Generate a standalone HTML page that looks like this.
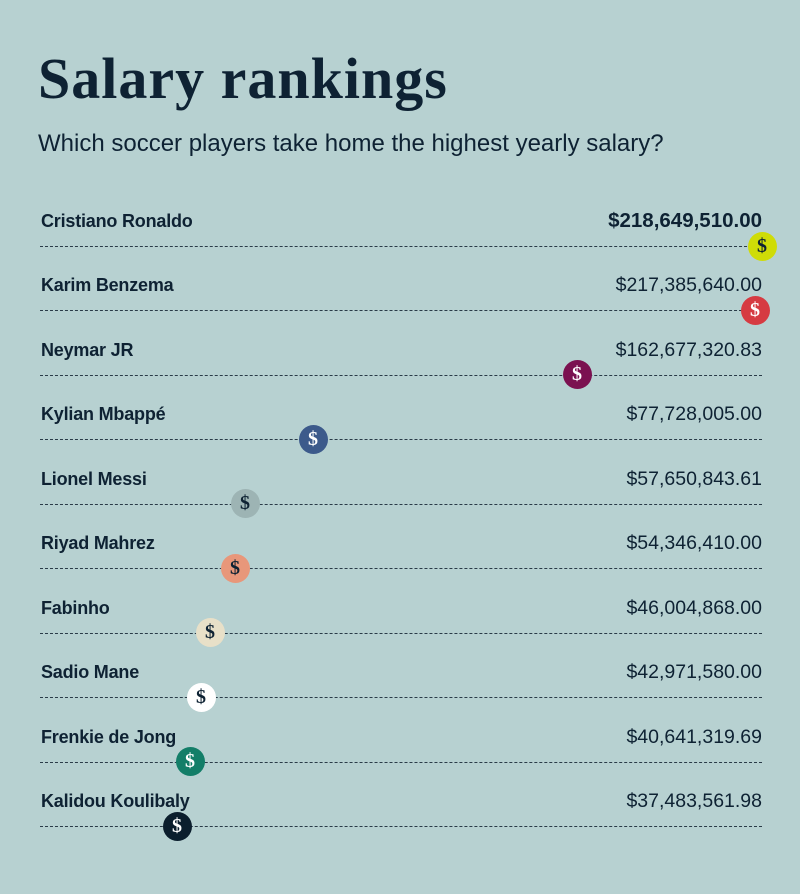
<!DOCTYPE html>
<html><head><meta charset="utf-8"><style>
body{margin:0;background:#b7d1d1;width:800px;height:894px;position:relative;overflow:hidden;font-family:"Liberation Sans",sans-serif;color:#0e2233}
.t{position:absolute;left:38px;top:48px;font-family:"Liberation Serif",serif;font-weight:bold;font-size:58px;line-height:62px;letter-spacing:1px}
.s{position:absolute;left:38px;top:129px;font-size:24px;line-height:30px}
.n{position:absolute;left:41px;font-weight:bold;font-size:18px;line-height:20px;letter-spacing:-0.2px}
.v{position:absolute;right:38px;font-size:19.5px;line-height:20px}
.l{position:absolute;left:40px;width:722px;border-top:1.3px dashed #2a3b48}
.c{position:absolute;width:29px;height:29px;border-radius:50%;font-family:"Liberation Serif",serif;font-weight:bold;font-size:20px;line-height:29px;text-align:center}
</style></head><body>
<div class="t">Salary rankings</div>
<div class="s">Which soccer players take home the highest yearly salary?</div>
<div id="r"></div>
<script>
var d=[["Cristiano Ronaldo","$218,649,510.00",762,"#cfdc07","#0e2233",1],
["Karim Benzema","$217,385,640.00",755,"#d63b42","#fff"],
["Neymar JR","$162,677,320.83",577,"#7b1150","#fff"],
["Kylian Mbappé","$77,728,005.00",313,"#3c5a8b","#fff"],
["Lionel Messi","$57,650,843.61",245,"#9db4b4","#0e2233"],
["Riyad Mahrez","$54,346,410.00",235,"#e8977a","#0e2233"],
["Fabinho","$46,004,868.00",210,"#e8e0c8","#0e2233"],
["Sadio Mane","$42,971,580.00",201,"#ffffff","#0e2233"],
["Frenkie de Jong","$40,641,319.69",190,"#137e68","#fff"],
["Kalidou Koulibaly","$37,483,561.98",177,"#0b1e2d","#fff"]];
var h="";
d.forEach(function(e,i){var y=246+64.45*i;
h+='<div class="n" style="top:'+(y-35)+'px">'+e[0]+'</div>';
h+='<div class="v" style="top:'+(y-35)+'px;'+(e[5]?'font-weight:bold;font-size:20.5px':'')+'">'+e[1]+'</div>';
h+='<div class="l" style="top:'+y+'px"></div>';
h+='<div class="c" style="left:'+(e[2]-14.5)+'px;top:'+(y-14.5)+'px;background:'+e[3]+';color:'+e[4]+'">$</div>';});
document.getElementById("r").innerHTML=h;
</script>
</body></html>
